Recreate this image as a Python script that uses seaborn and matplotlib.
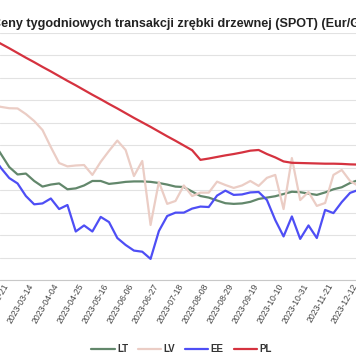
import matplotlib
matplotlib.use('Agg')
import matplotlib.pyplot as plt
import matplotlib.lines as mlines
import pandas as pd
import seaborn as sns

# weekly observations (Eur/GJ), first week 2023-02-09
dates = pd.date_range('2023-02-09', periods=45, freq='7D')

lt = [6.19, 5.61, 5.03, 4.70, 4.74, 4.41, 4.16, 4.25, 4.30, 4.04, 4.08, 4.21, 4.41, 4.41, 4.28,
      4.32, 4.37, 4.39, 4.39, 4.37, 4.32, 4.25, 4.16, 4.14, 3.94, 3.74, 3.67, 3.54, 3.42, 3.39,
      3.41, 3.48, 3.61, 3.67, 3.73, 3.83, 3.93, 3.91, 3.85, 3.79, 3.90, 4.04, 4.13, 4.32, 4.45]
lv = [7.80, 7.71, 7.65, 7.64, 7.39, 7.08, 6.68, 5.92, 5.21, 5.06, 5.10, 5.12, 4.68, 5.26, 5.75,
      6.21, 5.79, 4.63, 5.30, 2.45, 4.37, 3.39, 3.52, 4.21, 3.74, 3.89, 3.89, 4.38, 4.23, 4.10,
      4.21, 4.41, 4.19, 4.55, 4.68, 3.16, 5.43, 3.56, 3.92, 3.30, 3.43, 4.68, 4.90, 4.41, 4.19]
ee = [5.52, 4.99, 4.54, 4.30, 3.74, 3.37, 3.41, 3.63, 3.16, 3.34, 2.16, 2.43, 2.16, 2.81, 2.58,
      1.87, 1.56, 1.31, 1.26, 0.94, 2.18, 2.85, 3.00, 3.00, 3.18, 3.27, 3.25, 3.76, 3.98, 3.79,
      3.81, 3.90, 3.92, 3.56, 2.67, 1.94, 2.83, 1.83, 2.43, 1.87, 3.12, 2.98, 3.47, 3.88, 4.01]
pl = [10.73, 10.52, 10.32, 10.11, 9.90, 9.70, 9.49, 9.29, 9.08, 8.87, 8.67, 8.46, 8.25, 8.05, 7.84,
      7.64, 7.43, 7.22, 7.02, 6.82, 6.61, 6.40, 6.20, 5.99, 5.78, 5.35, 5.41, 5.48, 5.55, 5.61,
      5.68, 5.76, 5.79, 5.61, 5.46, 5.28, 5.22, 5.21, 5.20, 5.19, 5.18, 5.18, 5.17, 5.15, 5.14]

countries = ['LT', 'LV', 'EE', 'PL']
tick_dates = pd.date_range('2023-02-21', '2023-12-12', freq='21D')
title = 'Ceny tygodniowych transakcji zrębki drzewnej (SPOT) (Eur/GJ)'

colors = {'LT': '#62876b', 'LV': '#ebcdc5', 'EE': '#4e4ef5', 'PL': '#d5323f'}

df = pd.DataFrame({
    'date': list(dates) * 4,
    'value': lt + lv + ee + pl,
    'country': [c for c in countries for _ in dates],
})

sns.set_style('white')
plt.rcParams['font.family'] = ['Liberation Sans', 'DejaVu Sans']

fig = plt.figure(figsize=(3.56, 3.64), dpi=100)
# the visible window is only the middle of a wider chart
ax = fig.add_axes([0, 84 / 364, 1, 247 / 364])
sns.lineplot(data=df, x='date', y='value', hue='country', palette=colors,
             linewidth=1.6, legend=False, ax=ax)

ax.set_xlim(pd.Timestamp('2023-02-15 05:00'), pd.Timestamp('2023-12-06 10:00'))
ax.set_ylim(0, 11)
ax.set_yticks(range(0, 12))
ax.set_yticklabels([])
ax.grid(axis='y', color='#e2e2e2', linewidth=0.8)
ax.set_axisbelow(True)
ax.set_xlabel('')
ax.set_ylabel('')

ax.set_xticks(tick_dates)
ax.set_xticklabels([d.strftime('%Y-%m-%d') for d in tick_dates])
plt.setp(ax.get_xticklabels(), rotation=60, ha='right', va='center',
         rotation_mode='anchor', fontsize=6.2, color='#444444')
ax.tick_params(axis='x', length=0, pad=3)
ax.tick_params(axis='y', length=0)

for side in ['left', 'right', 'top']:
    ax.spines[side].set_visible(False)
ax.spines['bottom'].set_color('#c8c8c8')
ax.spines['bottom'].set_linewidth(0.8)

fig.text(-8.5 / 356, 1 - 26.7 / 364, title, ha='left', va='baseline',
         fontsize=9.1, fontweight='bold', color='#222222')

handles = [mlines.Line2D([], [], color=colors[c], linewidth=1.6, label=c) for c in countries]
leg = fig.legend(handles=handles, ncol=4, loc='center',
                 bbox_to_anchor=(181.5 / 356, 1 - 349 / 364), frameon=False,
                 handlelength=2.4, handletextpad=0.25, columnspacing=1.0,
                 prop={'weight': 'bold', 'size': 7})
for t in leg.get_texts():
    t.set_color('#333333')

fig.savefig('out.png', dpi=100)
